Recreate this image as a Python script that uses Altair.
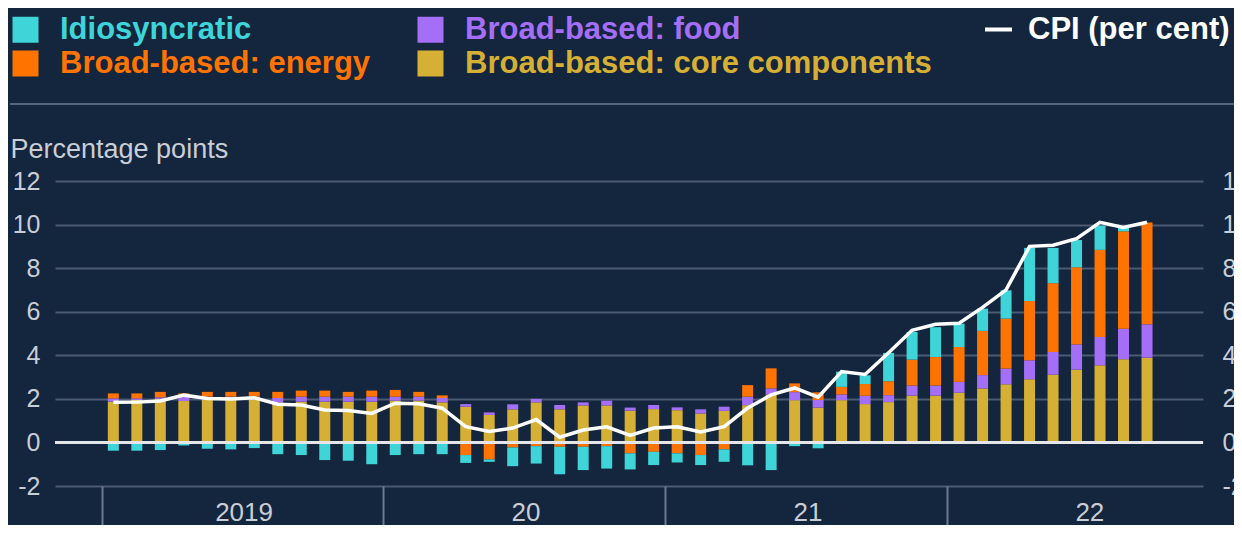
import altair as alt
import pandas as pd

# month index 0 = Jan 2019 ... 44 = Sep 2022
months = list(range(45))
core = [1.87, 1.95, 2.00, 1.90, 1.95, 1.95, 1.95, 1.84, 1.87, 1.87, 1.87, 1.87,
        1.92, 1.92, 1.84, 1.64, 1.26, 1.52, 1.84, 1.52, 1.70, 1.70, 1.46, 1.53,
        1.48, 1.33, 1.45, 1.71, 2.20, 1.94, 1.60, 1.94, 1.76, 1.85, 2.15, 2.15,
        2.28, 2.48, 2.67, 2.90, 3.11, 3.34, 3.54, 3.82, 3.89]
food = [0.15, 0.07, 0.07, 0.20, 0.15, 0.15, 0.15, 0.20, 0.23, 0.23, 0.23, 0.23,
        0.18, 0.18, 0.20, 0.12, 0.12, 0.23, 0.16, 0.20, 0.14, 0.22, 0.14, 0.19,
        0.13, 0.19, 0.19, 0.39, 0.28, 0.37, 0.35, 0.26, 0.38, 0.32, 0.46, 0.46,
        0.50, 0.61, 0.72, 0.87, 1.04, 1.16, 1.30, 1.40, 1.53]
energy = [0.23, 0.23, 0.25, 0.15, 0.22, 0.22, 0.22, 0.28, 0.28, 0.28, 0.22, 0.28,
          0.31, 0.22, 0.12, -0.58, -0.78, -0.23, -0.17, -0.20, -0.20, -0.17, -0.50, -0.43,
          -0.50, -0.58, -0.32, 0.53, 0.92, 0.40, 0.35, 0.35, 0.54, 0.64, 1.19, 1.31,
          1.60, 2.03, 2.29, 2.72, 3.16, 3.54, 4.00, 4.47, 4.67]
idio = [-0.38, -0.38, -0.35, -0.14, -0.29, -0.32, -0.26, -0.54, -0.58, -0.81, -0.84, -1.00,
        -0.58, -0.54, -0.54, -0.36, -0.11, -0.86, -0.80, -1.26, -1.07, -1.03, -0.74, -0.61,
        -0.42, -0.46, -0.57, -1.05, -1.27, -0.17, -0.27, 0.70, 0.40, 1.30, 1.27, 1.37,
        1.07, 1.02, 1.30, 2.44, 1.62, 1.25, 1.11, 0.18, 0.00]
cpi = [1.84, 1.85, 1.90, 2.17, 2.02, 1.99, 2.05, 1.75, 1.72, 1.49, 1.46, 1.33,
       1.80, 1.77, 1.57, 0.72, 0.50, 0.66, 1.05, 0.24, 0.57, 0.72, 0.32, 0.66,
       0.72, 0.48, 0.72, 1.58, 2.18, 2.50, 2.08, 3.25, 3.12, 4.12, 5.15, 5.42,
       5.47, 6.20, 7.00, 9.00, 9.05, 9.35, 10.10, 9.87, 10.11]
year_labels = ["2019", "20", "21", "22"]

# legend order (filled column by column): Idiosyncratic, energy | food, core
series_names = ["Idiosyncratic", "Broad-based: energy", "Broad-based: food",
                "Broad-based: core components"]
series_colors = ["#3ed4d8", "#ff7400", "#a46ff6", "#d6b035"]

rows = []
for i, m in enumerate(months):
    for name, vals, o in [("Broad-based: core components", core, 0),
                          ("Broad-based: food", food, 1),
                          ("Broad-based: energy", energy, 2),
                          ("Idiosyncratic", idio, 3)]:
        rows.append({"t": m + 0.5, "series": name, "value": vals[i], "ord": o})
bars_df = pd.DataFrame(rows)
line_df = pd.DataFrame({"t": [m + 0.5 for m in months], "cpi": cpi,
                        "lbl": ["CPI (per cent)"] * len(months)})

BG = "#14253e"
GRID = "#4b5b72"
TXT = "#c9ced6"

xscale = alt.Scale(domain=[-1.77, 46.67], nice=False, zero=False)
yscale = alt.Scale(domain=[-2, 12], nice=False)
yvals = [-2, 0, 2, 4, 6, 8, 10, 12]

label_color_expr = " : ".join(
    f"datum.value === '{n}' ? '{c}'" for n, c in zip(series_names[:-1], series_colors[:-1])
) + f" : '{series_colors[-1]}'"
year_expr = "[" + ",".join(f"'{y}'" for y in year_labels) + "][datum.value/12]"

xaxis = alt.Axis(values=[0, 12, 24, 36], tickSize=41, tickColor="#6b7a8e", tickWidth=2,
                 domain=False, grid=False, labelOffset=142, labelPadding=-28,
                 labelExpr=year_expr,
                 labelFontSize=26, labelColor=TXT, labelFlush=False,
                 labelOverlap=False, labelBound=False, title=None)

bars = alt.Chart(bars_df).mark_bar(size=11).encode(
    x=alt.X("t:Q", scale=xscale, axis=xaxis),
    y=alt.Y("value:Q", stack="zero", scale=yscale,
            axis=alt.Axis(values=yvals, grid=True, gridColor=GRID, gridWidth=2,
                          domain=False, ticks=False, labelPadding=15,
                          labelFontSize=25, labelColor=TXT,
                          labelExpr="'' + datum.value",
                          title="Percentage points", titleAngle=0, titleAlign="left",
                          titleX=-45, titleY=-24, titleBaseline="alphabetic",
                          titleFontSize=27, titleFontWeight="normal", titleColor=TXT)),
    color=alt.Color("series:N",
                    scale=alt.Scale(domain=series_names, range=series_colors),
                    legend=alt.Legend(orient="none", legendX=-45, legendY=-167,
                                      columns=2, columnPadding=44, rowPadding=2,
                                      symbolType="square", symbolSize=676,
                                      symbolStrokeWidth=0, symbolOpacity=1,
                                      labelFontSize=31, labelFontWeight="bold",
                                      labelColor={"expr": label_color_expr},
                                      labelOffset=19, labelLimit=700, title=None)),
    order=alt.Order("ord:Q"),
)

zero = alt.Chart(line_df).mark_rule(color="#e4e6ea", strokeWidth=2.5).encode(
    y=alt.datum(0, scale=yscale, axis=None)
)

line = alt.Chart(line_df).mark_line(strokeWidth=3.5).encode(
    x=alt.X("t:Q", scale=xscale, axis=xaxis),
    y=alt.Y("cpi:Q", scale=yscale,
            axis=alt.Axis(orient="right", values=yvals, grid=False, domain=False,
                          ticks=False, labelPadding=19, labelFontSize=25,
                          labelExpr="'' + datum.value",
                          labelColor=TXT, title=None)),
    stroke=alt.Stroke("lbl:N",
                      scale=alt.Scale(domain=["CPI (per cent)"], range=["#ffffff"]),
                      legend=alt.Legend(orient="none", legendX=928, legendY=-167,
                                        symbolType="stroke", symbolSize=729,
                                        symbolStrokeWidth=4, symbolStrokeColor="#ffffff",
                                        labelFontSize=31, labelFontWeight="bold",
                                        labelColor="#ffffff", labelOffset=14,
                                        labelLimit=400, title=None)),
)

sep = alt.Chart(line_df).mark_rule(color="#56667c", strokeWidth=2).encode(
    x=alt.value(-45), x2=alt.value(1190), y=alt.value(-77)
)

chart = alt.layer(bars, zero, line, sep).resolve_axis(y="independent").resolve_scale(
    color="independent"
).properties(
    width=1148, height=305,
    autosize=alt.AutoSizeParams(type="none"),
    padding={"left": 47, "top": 173, "right": 31, "bottom": 39},
    background=BG,
).configure(font="Liberation Sans").configure_view(strokeWidth=0)

chart.save("out.html", embed_options={"renderer": "svg", "actions": False})
